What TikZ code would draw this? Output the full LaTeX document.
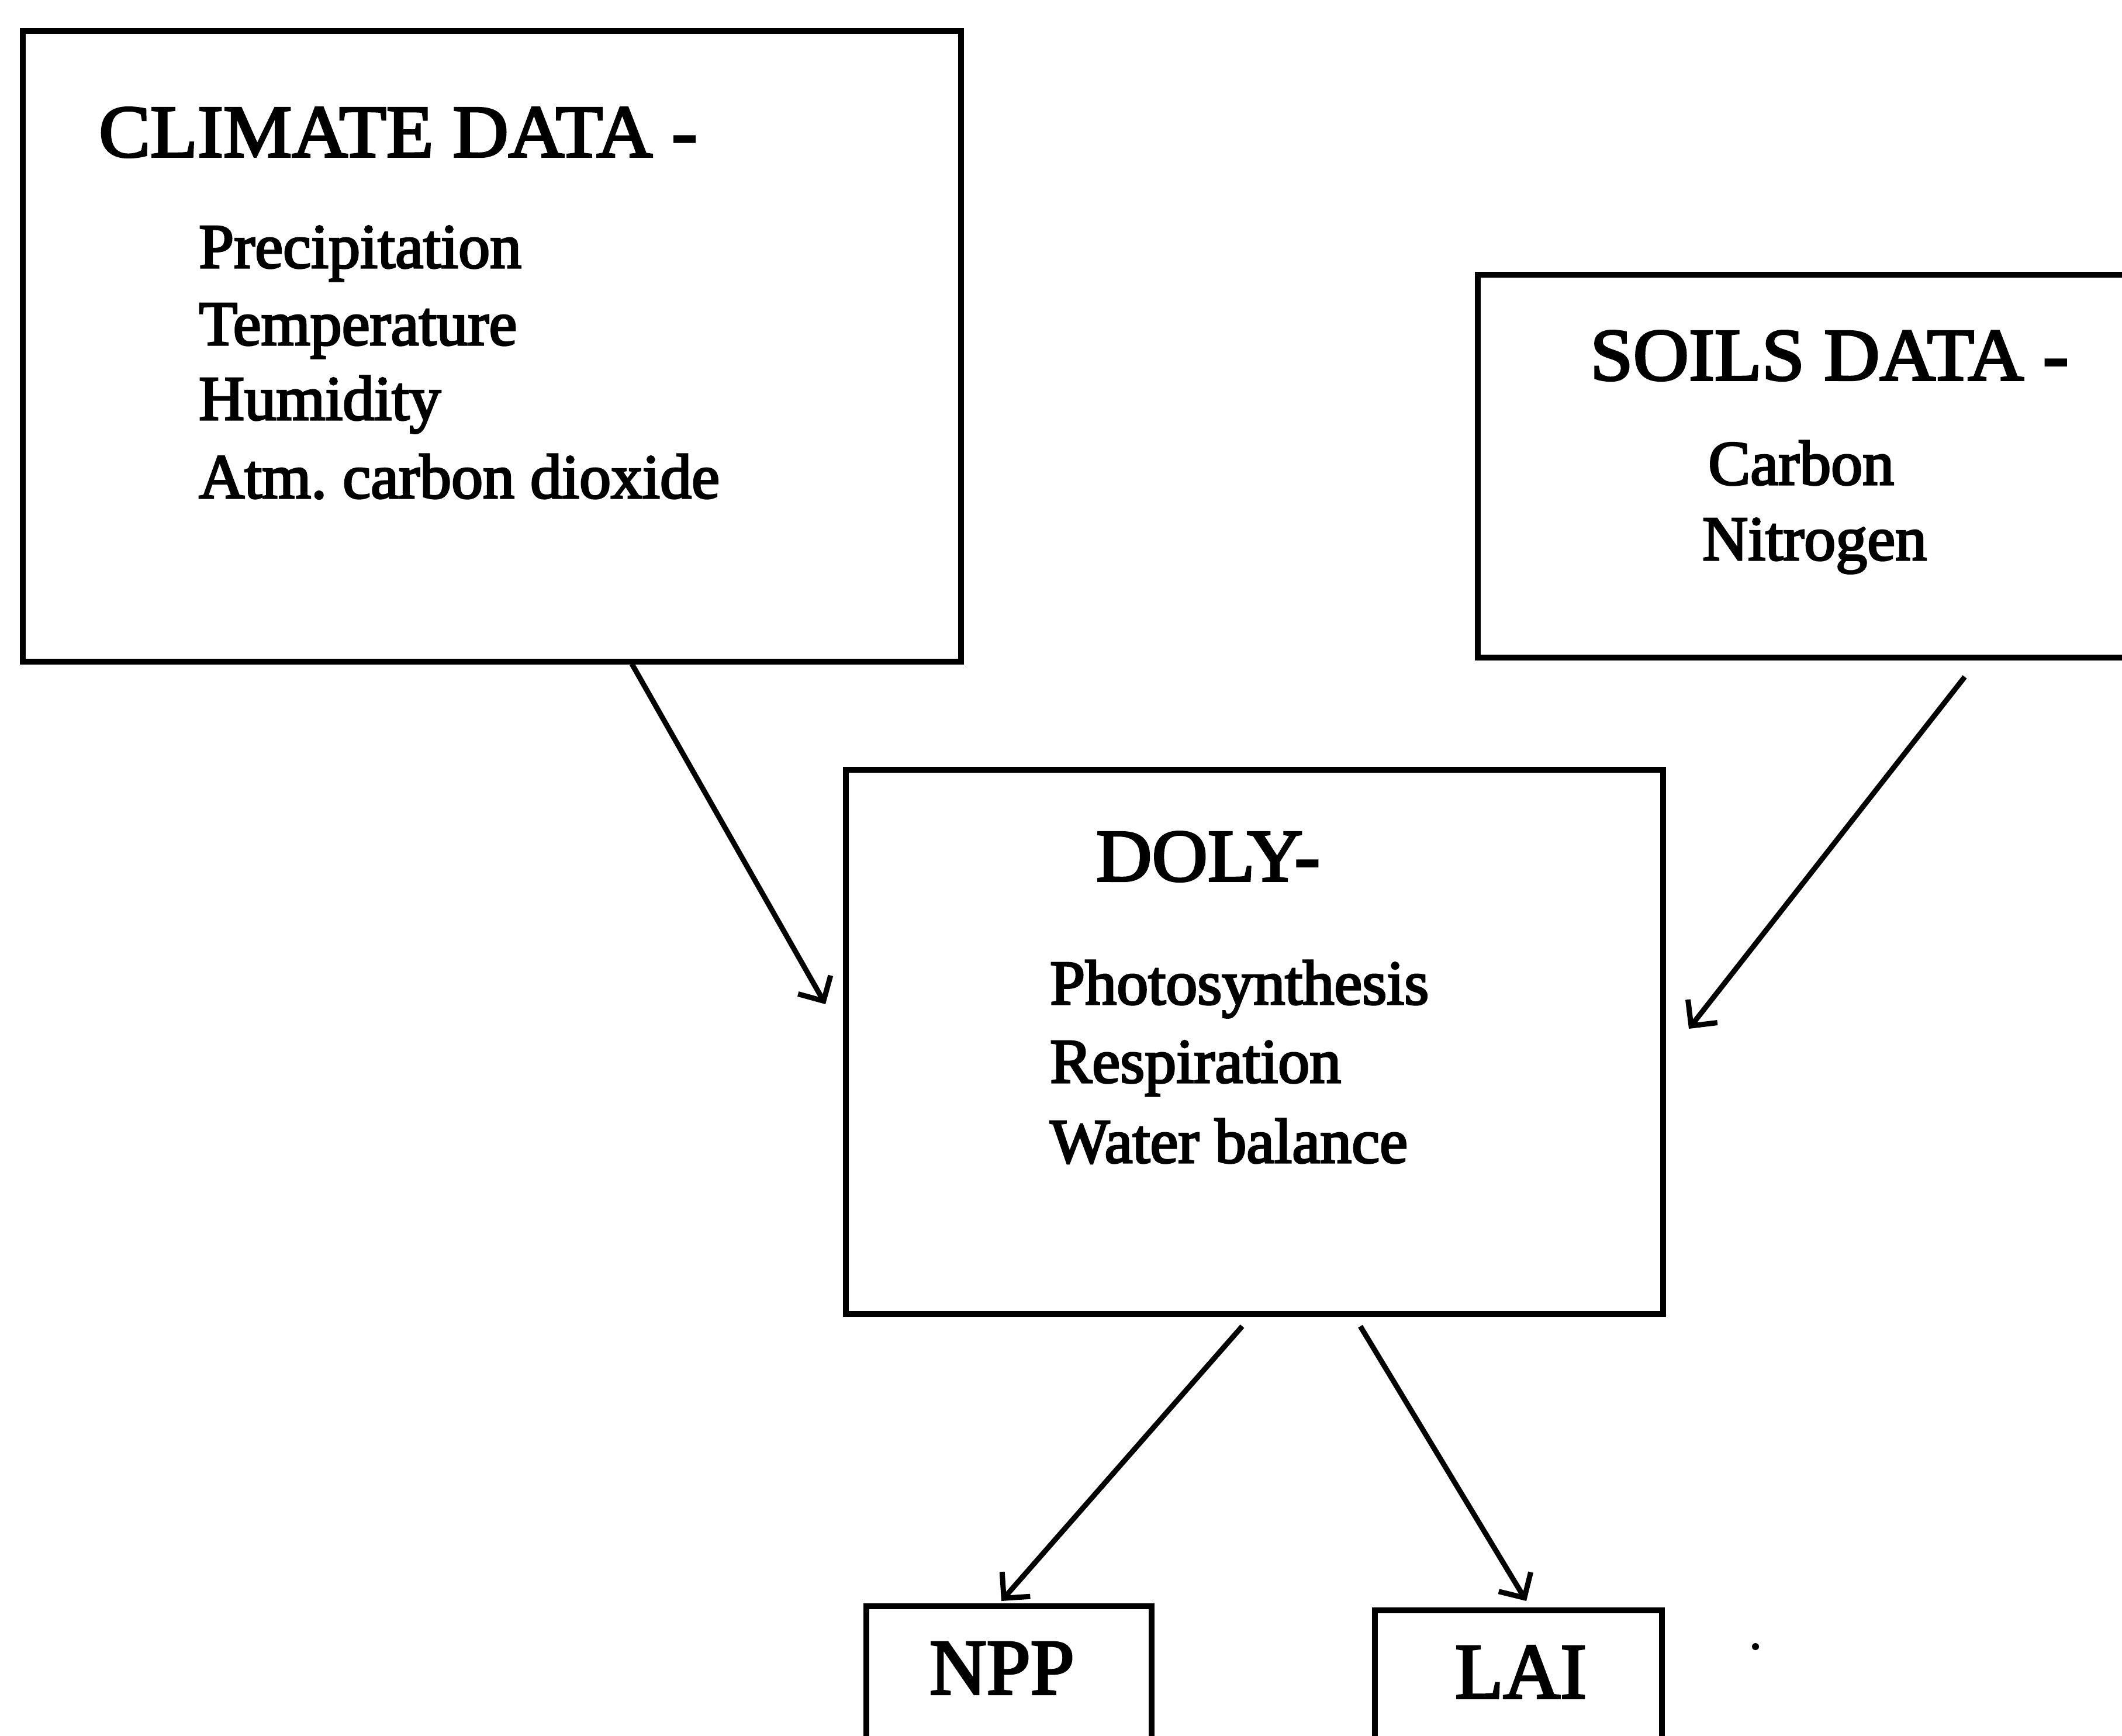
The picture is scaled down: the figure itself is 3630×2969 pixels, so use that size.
\documentclass[tikz,border=0pt]{standalone}
\usepackage{fontspec}
\setmainfont{Liberation Serif}[FakeBold=3]
\newfontfamily\hfont{Liberation Serif}[FakeBold=3,FakeStretch=1.04]
\usetikzlibrary{arrows.meta}
\tikzset{
  box/.style={draw, line width=10pt},
  head/.style={anchor=base west, inner sep=0pt, font=\hfont\fontsize{127}{132}\selectfont},
  body/.style={anchor=base west, inner sep=0pt, font=\fontsize{108}{132}\selectfont},
  outlab/.style={anchor=base west, inner sep=0pt, font=\fontsize{135}{140}\selectfont},
  arr/.style={line width=9pt, -{Straight Barb[length=32pt,width=64pt,line width=9pt]}}
}
\begin{document}
\begin{tikzpicture}[x=1pt,y=-1pt]
\useasboundingbox (0,0) rectangle (3630,2969);
% boxes
\draw[box] (39,53) rectangle (1644,1132);
\node[inner sep=0pt] (climate) at (841.5,592.5) {};
\draw[box] (2528,470) rectangle (3700,1125);
\node[inner sep=0pt] (soils) at (3114,797) {};
\draw[box] (1447,1317) rectangle (2845,2248);
\node[inner sep=0pt] (doly) at (2146,1782) {};
\draw[box] (1482,2748) rectangle (1970,3100);
\node[inner sep=0pt] (npp) at (1726,2924) {};
\draw[box] (2352,2755) rectangle (2843,3100);
\node[inner sep=0pt] (lai) at (2597,2928) {};
% texts
\node[head] (climh) at (169,268) {CLIMATE DATA -};
\node[body] (cl1) at (340,458) {Precipitation};
\node[body] (cl2) at (340,590) {Temperature};
\node[body] (cl3) at (340,718) {Humidity};
\node[body] (cl4) at (340,852) {Atm.\ carbon dioxide};
\node[head] (soilh) at (2720,650) {SOILS DATA -};
\node[body] (so1) at (2922,829) {Carbon};
\node[body] (so2) at (2912,958) {Nitrogen};
\node[head] (dolyh) at (1875,1507) {DOLY-};
\node[body] (do1) at (1796,1718) {Photosynthesis};
\node[body] (do2) at (1796,1852) {Respiration};
\node[body] (do3) at (1796,1989) {Water balance};
\node[outlab] (npptxt) at (1590,2898) {NPP};
\node[outlab] (laitxt) at (2489,2905) {LAI};
% stray dot
\fill (3003,2817) circle (6);
% connector ends
\coordinate (a1) at (1081,1136);
\coordinate (b1) at (1412,1718);
\coordinate (a2) at (3361,1158);
\coordinate (b2) at (2889,1760);
\coordinate (a3) at (2125,2269);
\coordinate (b3) at (1713,2739);
\coordinate (a4) at (2327,2269);
\coordinate (b4) at (2611,2739);
\draw[arr] (a1) -- (b1);
\draw[arr] (a2) -- (b2);
\draw[arr] (a3) -- (b3);
\draw[arr] (a4) -- (b4);
\end{tikzpicture}
\end{document}
